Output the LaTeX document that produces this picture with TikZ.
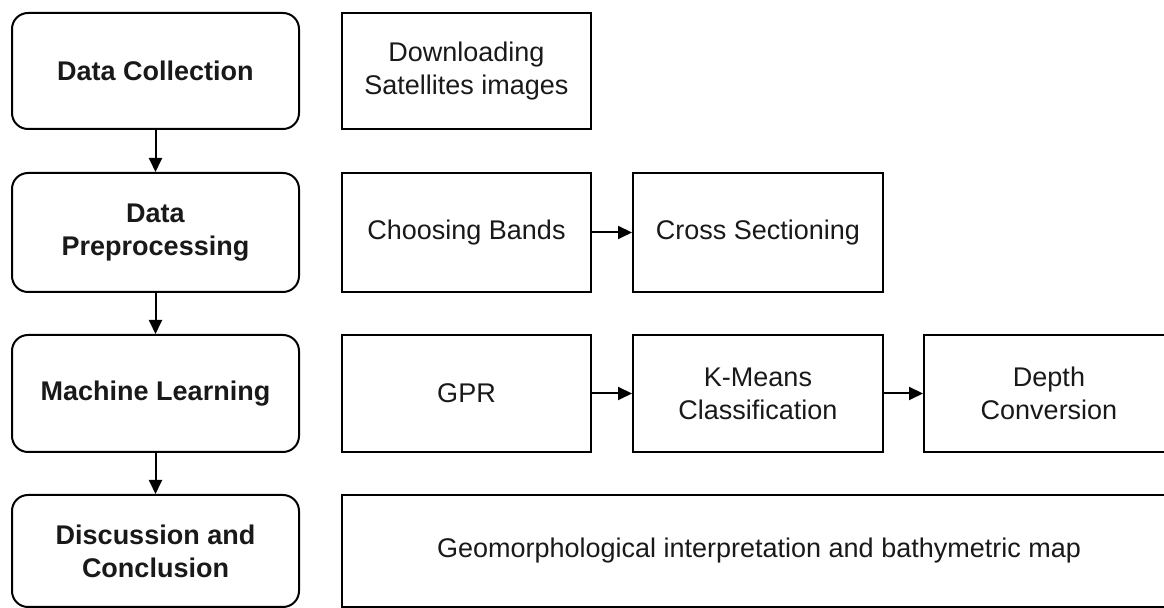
\documentclass[tikz,border=0pt]{standalone}
\usepackage{fontspec}
\setmainfont{Liberation Sans}
\usetikzlibrary{arrows.meta}
\begin{document}
\begin{tikzpicture}[x=0.5pt,y=-0.5pt,
  base/.style={draw=black, line width=1pt, align=center, inner sep=0pt,
    font=\fontsize{13.5}{16.5}\selectfont, text=black!90},
  stage/.style={base, rounded corners=8pt, font=\fontsize{13.5}{16.5}\selectfont\bfseries,
    minimum width=143.5pt},
  task/.style={base},
  conn/.style={line width=1pt, -{Triangle[length=7pt,width=6.5pt]}}
]
\useasboundingbox (0,0) rectangle (1164,608);
\clip (0,0) rectangle (1164,608);
% left stages
\node[stage, minimum height=58pt] (s1) at (155.5,71) {Data Collection};
\node[stage, minimum height=59.5pt] (s2) at (155.5,232.5) {Data\\Preprocessing};
\node[stage, minimum height=58.5pt] (s3) at (155.5,393.5) {Machine Learning};
\node[stage, minimum height=56pt] (s4) at (155.5,551) {Discussion and\\Conclusion};
% tasks
\node[task, minimum width=124.5pt, minimum height=58pt] (t1) at (466.5,71) {Downloading\\Satellites images};
\node[task, minimum width=124.5pt, minimum height=59.5pt] (t2) at (466.5,232.5) {Choosing Bands};
\node[task, minimum width=125pt, minimum height=59.5pt] (t3) at (758,232.5) {Cross Sectioning};
\node[task, minimum width=124.5pt, minimum height=58.5pt] (t4) at (466.5,393.5) {GPR};
\node[task, minimum width=125pt, minimum height=58.5pt] (t5) at (758,393.5) {K-Means\\Classification};
\node[task, minimum width=125pt, minimum height=58.5pt] (t6) at (1049,393.5) {Depth\\Conversion};
\node[task, minimum width=417pt, minimum height=56pt] (t7) at (759,551) {Geomorphological interpretation and bathymetric map};
% connectors
\draw[conn] (s1) -- (s2);
\draw[conn] (s2) -- (s3);
\draw[conn] (s3) -- (s4);
\draw[conn] (t2) -- (t3);
\draw[conn] (t4) -- (t5);
\draw[conn] (t5) -- (t6);
\end{tikzpicture}
\end{document}
